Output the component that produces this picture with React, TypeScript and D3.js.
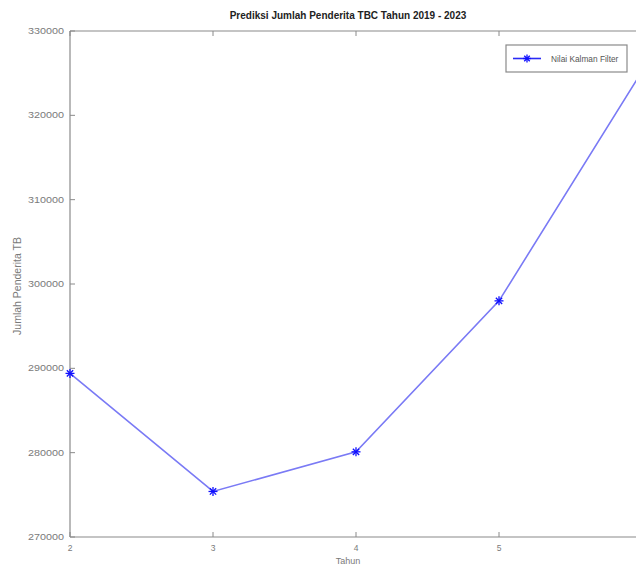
import React from "react";
import * as d3 from "d3";

const years = [2, 3, 4, 5, 6];
const kalmanValues = [289400, 275400, 280100, 298000, 325200];
const xTicks = [2, 3, 4, 5, 6];
const xTickLabels = ["2", "3", "4", "5", ""];
const yTicks = [270000, 280000, 290000, 300000, 310000, 320000, 330000];

const W = 636, H = 567;
const M = { left: 70, right: 642, top: 31, bottom: 537 };

export default function App() {
  const x = d3.scaleLinear().domain([2, 6]).range([M.left, M.right]);
  const y = d3.scaleLinear().domain([270000, 330000]).range([M.bottom, M.top]);
  const line = d3.line<number>().x((_, i) => x(years[i])).y((d) => y(d));
  const axisColor = "#8a8a8a";
  const textColor = "#7a7a7a";
  const font = "Liberation Sans, Arial, sans-serif";
  const star = (cx: number, cy: number, r: number, key?: string | number) => (
    <g key={key} stroke="#1010ff" strokeWidth={1.3}>
      <line x1={cx - r} y1={cy} x2={cx + r} y2={cy} />
      <line x1={cx} y1={cy - r} x2={cx} y2={cy + r} />
      <line x1={cx - r * 0.7} y1={cy - r * 0.7} x2={cx + r * 0.7} y2={cy + r * 0.7} />
      <line x1={cx - r * 0.7} y1={cy + r * 0.7} x2={cx + r * 0.7} y2={cy - r * 0.7} />
    </g>
  );
  return (
    <svg width={W} height={H} style={{ position: "absolute", left: 0, top: 0, background: "#fff" }} fontFamily={font}>
      <rect x={0} y={0} width={W} height={H} fill="#fff" />
      <line x1={M.left} y1={M.bottom} x2={M.right} y2={M.bottom} stroke={axisColor} strokeWidth={1.2} />
      <line x1={M.left} y1={M.top} x2={M.right} y2={M.top} stroke={axisColor} strokeWidth={1.2} />
      <line x1={M.left} y1={M.top} x2={M.left} y2={M.bottom} stroke={axisColor} strokeWidth={1.2} />
      {xTicks.map((t, i) => (
        <g key={"x" + t}>
          <line x1={x(t)} y1={M.bottom} x2={x(t)} y2={M.bottom - 5} stroke={axisColor} />
          <line x1={x(t)} y1={M.top} x2={x(t)} y2={M.top + 5} stroke={axisColor} />
          <text x={x(t)} y={M.bottom + 14} fontSize={8.5} fill={textColor} textAnchor="middle">{xTickLabels[i]}</text>
        </g>
      ))}
      {yTicks.map((t) => (
        <g key={"y" + t}>
          <line x1={M.left} y1={y(t)} x2={M.left + 5} y2={y(t)} stroke={axisColor} />
          <text x={M.left - 6} y={y(t) + 3} fontSize={8.5} fill={textColor} textAnchor="end" textLength={36} lengthAdjust="spacingAndGlyphs">{t}</text>
        </g>
      ))}
      <text x={348} y={564} fontSize={9} fill={textColor} textAnchor="middle">Tahun</text>
      <text transform={`translate(21,286) rotate(-90)`} fontSize={10.5} fill={textColor} textAnchor="middle">Jumlah Penderita TB</text>
      <text x={348} y={19} fontSize={10} fontWeight="bold" fill="#222" textAnchor="middle">Prediksi Jumlah Penderita TBC Tahun 2019 - 2023</text>
      <path d={line(kalmanValues) || ""} fill="none" stroke="#7a7af5" strokeWidth={1.6} />
      {kalmanValues.map((v, i) => star(x(years[i]), y(v), 4.5, i))}
      <rect x={506} y={45} width={121} height={27} fill="#fff" stroke={axisColor} strokeWidth={1.2} />
      <line x1={513} y1={58.5} x2={541} y2={58.5} stroke="#2a2af5" strokeWidth={1.6} />
      {star(527, 58.5, 4)}
      <text x={551} y={61.5} fontSize={8.3} fill="#555">Nilai Kalman Filter</text>
    </svg>
  );
}
